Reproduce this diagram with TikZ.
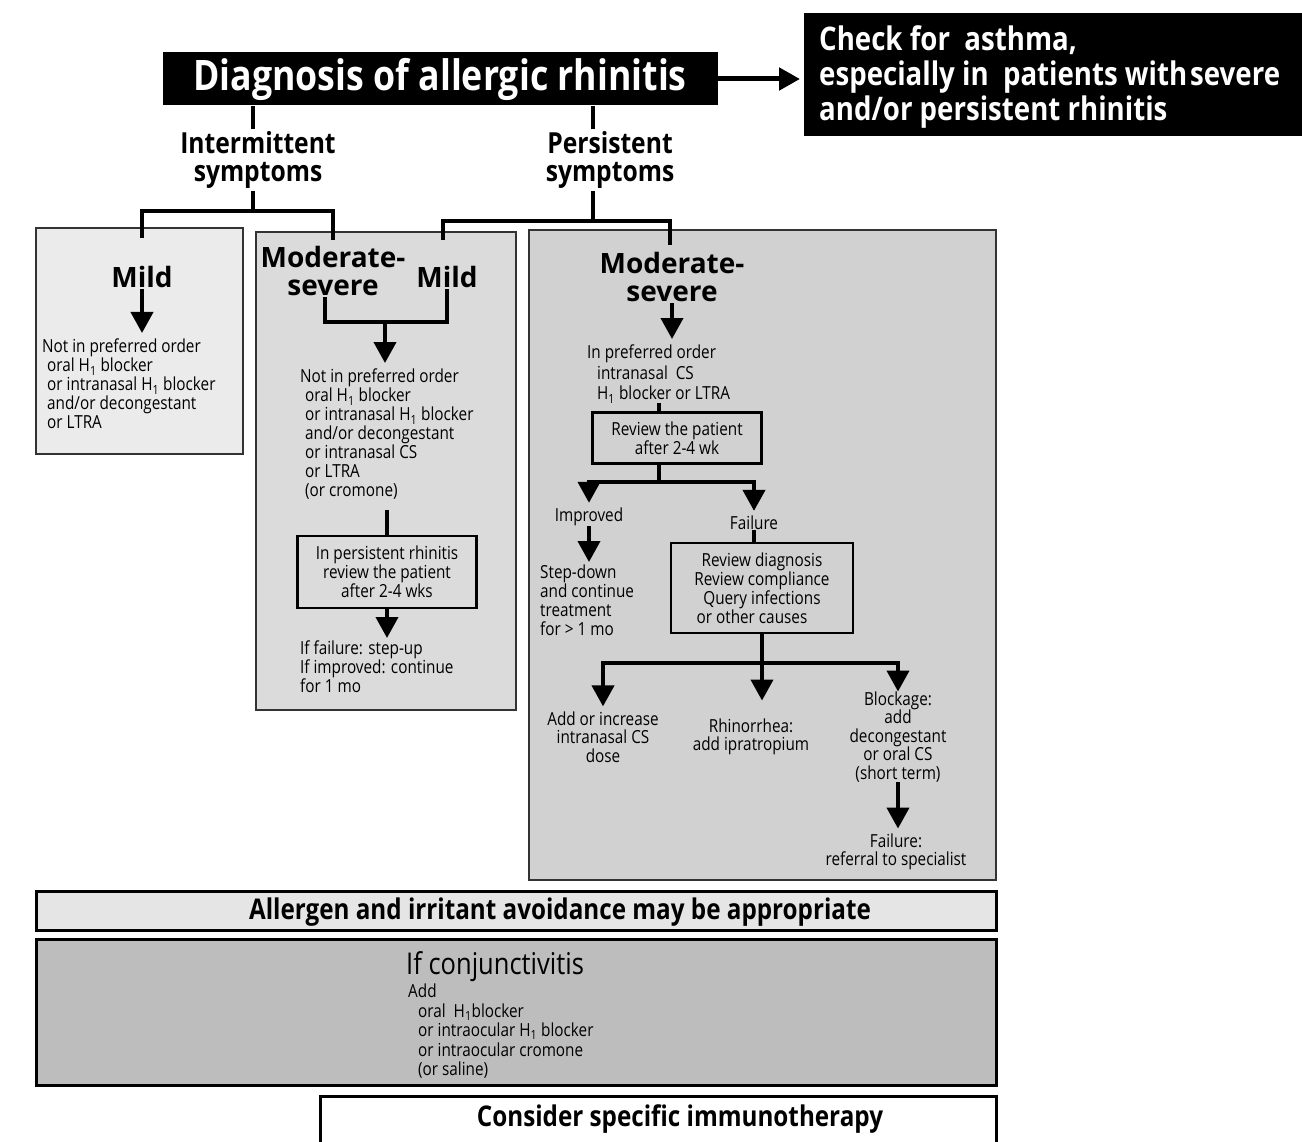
\documentclass[tikz,border=0pt]{standalone}
\usepackage{fontspec}
\setmainfont[FakeStretch=0.85]{Open Sans}
\newfontfamily\widefont{Open Sans}
\usetikzlibrary{arrows.meta}
\tikzset{
  link/.style={line width=4pt},
  go/.style={line width=4pt,-{Triangle[length=21pt,width=22pt]}},
  body/.style={inner sep=0pt,align=left,font=\fontsize{18}{19}\selectfont},
  mid/.style={inner sep=0pt,align=center,font=\fontsize{18}{18.5}\selectfont},
  head/.style={inner sep=2pt,align=center,font=\bfseries\fontsize{29}{28}\selectfont},
  sub/.style={inner sep=1pt,align=center,font=\widefont\bfseries\fontsize{28}{28}\selectfont},
  frame/.style={draw,line width=2.5pt,inner sep=0pt,align=center,font=\fontsize{18}{19}\selectfont},
  panel/.style={draw=black!80,line width=1.2pt},
  band/.style={draw,line width=3pt},
}
\newcommand{\Hone}{H\textsubscript{1}}
\begin{document}
\begin{tikzpicture}[x=1pt,y=-1pt]
\useasboundingbox (0,0) rectangle (1302,1142);
\fill[white] (0,0) rectangle (1302,1142);
% panels
\draw[panel,fill=black!8] (36,228) rectangle (243,454);
\draw[panel,fill=black!14] (256,232) rectangle (516,710);
\draw[panel,fill=black!18] (529,230) rectangle (996,880);
% top row
\node[fill=black,text=white,minimum width=555pt,minimum height=53pt,inner sep=0pt,font=\bfseries\fontsize{42}{42}\selectfont] (diag) at (440,79) {Diagnosis of allergic rhinitis};
\node[fill=black,anchor=north west,minimum width=498pt,minimum height=123pt,inner sep=0pt] (asthma) at (804,13) {};
\node[text=white,anchor=west,inner sep=0pt,align=left,font=\bfseries\fontsize{32.5}{35}\selectfont] (asthmaT) at (819,77) {Check for\ \ asthma,\\especially in\ \ patients with\hspace{3pt}severe\\and/or persistent rhinitis};
\draw[go,line width=5pt,shorten >=4pt] (diag.east) -- (diag.east -| asthma.west);
\node[head] (inter) at (258,160) {Intermittent\\symptoms};
\node[head] (pers) at (610,160) {Persistent\\symptoms};
\draw[link] ([xshift=-5pt]inter.north) -- ([xshift=-5pt]inter.north |- diag.south);
\draw[link] ([xshift=-17pt]pers.north) -- ([xshift=-17pt]pers.north |- diag.south);
\draw[link] ([xshift=-5pt]inter.south) -- ++(0,20) coordinate (ij);
\coordinate (ia) at (142,238);
\coordinate (ib) at (333,240);
\draw[link] (ia) |- (ij) -| (ib);
\draw[link] ([xshift=-17pt]pers.south) -- ++(0,30) coordinate (pj);
\coordinate (pa) at (443,240);
\coordinate (pb) at (670,245);
\draw[link] (pa) |- (pj) -| (pb);
% intermittent mild
\node[sub] (mildA) at (142,277) {Mild};
\node[body,anchor=north west] (optA) at (42,339) {Not in preferred order\\\hspace*{5pt}oral \Hone{} blocker\\\hspace*{5pt}or intranasal \Hone{} blocker\\\hspace*{5pt}and/or decongestant\\\hspace*{5pt}or LTRA};
\draw[go,shorten >=6pt] (mildA) -- (mildA |- optA.north);
% intermittent moderate-severe / persistent mild
\node[sub] (modB) at (333,271) {Moderate-\\severe};
\node[sub] (mildB) at (447,277) {Mild};
\coordinate (bj) at (385,322);
\draw[link] ([xshift=-8pt]modB.south) |- (bj) -| (mildB.south);
\node[body,anchor=north west] (optB) at (300,369) {Not in preferred order\\\hspace*{5pt}oral \Hone{} blocker\\\hspace*{5pt}or intranasal \Hone{} blocker\\\hspace*{5pt}and/or decongestant\\\hspace*{5pt}or intranasal CS\\\hspace*{5pt}or LTRA\\\hspace*{5pt}(or cromone)};
\draw[go,shorten >=6pt] (bj) -- (bj |- optB.north);
\node[frame,minimum width=179pt,minimum height=72pt] (revB) at (387,572) {In persistent rhinitis\\review the patient\\after 2-4 wks};
\draw[link,shorten >=10pt] (revB.north) -- (revB.north |- optB.south);
\node[body,anchor=north west] (resB) at (300,641) {If failure: step-up\\If improved: continue\\for 1 mo};
\draw[go,shorten >=3pt] (revB) -- (revB |- resB.north);
% persistent moderate-severe
\node[sub] (modC) at (672,277) {Moderate-\\severe};
\node[body,anchor=north west,font=\fontsize{18}{20.5}\selectfont] (optC) at (587,345) {In preferred order\\\hspace*{10pt}intranasal\ \ CS\\\hspace*{10pt}\Hone{} blocker or LTRA};
\draw[go,shorten >=6pt] (modC) -- (modC |- optC.north);
\node[frame,minimum width=169pt,minimum height=51pt] (revC) at (677,438) {Review the patient\\after 2-4 wk};
\draw[link] (optC.south) -- (optC.south |- revC.north);
\draw[link] (revC.south -| optC.south) -- ++(0,17) coordinate (cj);
\node[mid] (impC) at (589,517) {Improved};
\node[mid] (failC) at (754,523) {Failure};
\draw[go,shorten >=5pt] (cj) -| (impC.north);
\draw[go,shorten >=5pt] (cj) -| (failC.north);
\node[body,anchor=north west] (stepC) at (540,565) {Step-down\\and continue\\treatment\\for > 1 mo};
\draw[go,shorten >=3pt] (impC) -- (impC |- stepC.north);
\node[frame,minimum width=182pt,minimum height=90pt] (revD) at (762,588) {Review diagnosis\\Review compliance\\Query infections\\or other causes\hspace*{20pt}};
\draw[link] (failC) -- (failC |- revD.north);
\draw[link] (revD.south) -- ++(0,29) coordinate (dj);
\node[mid] (addC) at (603,737) {Add or increase\\intranasal CS\\dose};
\node[mid] (rhiC) at (751,737) {Rhinorrhea:\\add ipratropium};
\node[mid] (blkC) at (898,737) {Blockage:\\add\\decongestant\\or oral CS\\(short term)};
\draw[go,shorten >=5pt] (dj) -| (addC.north);
\draw[go,shorten >=18pt] (dj) -- (dj |- rhiC.north);
\draw[go] (dj) -| (blkC.north);
\node[mid] (refC) at (896,852) {Failure:\\referral to specialist};
\draw[go,shorten >=5pt] (blkC) -- (blkC |- refC.north);
% bands
\draw[band,fill=black!10] (36,891) rectangle (996,930);
\node[font=\bfseries\fontsize{28.5}{28.5}\selectfont] (avoid) at (560,912) {Allergen and irritant avoidance may be appropriate};
\draw[band,fill=black!26] (36,939) rectangle (996,1085);
\node[anchor=west,inner sep=0pt,font=\fontsize{30}{30}\selectfont] (conj) at (406,967) {If conjunctivitis};
\node[anchor=north west,inner sep=0pt,align=left,font=\fontsize{18}{19.5}\selectfont] (conjT) at (408,984) {Add\\\hspace*{10pt}oral\ \ \Hone{}blocker\\\hspace*{10pt}or intraocular \Hone{} blocker\\\hspace*{10pt}or intraocular cromone\\\hspace*{10pt}(or saline)};
\draw[band] (320,1150) |- (996,1096) -- (996,1150);
\node[font=\bfseries\fontsize{28.5}{28.5}\selectfont] (immuno) at (680,1119) {Consider specific immunotherapy};
\end{tikzpicture}
\end{document}
